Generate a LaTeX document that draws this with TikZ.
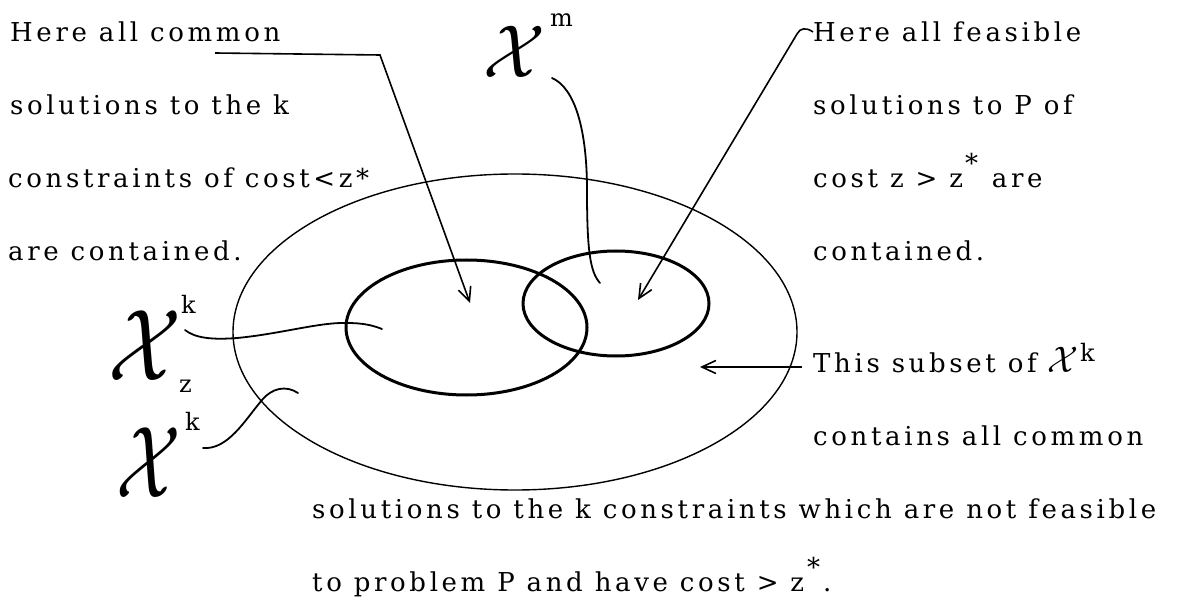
\documentclass[tikz,border=0pt]{standalone}
\usepackage{graphicx}
\usepackage{fontspec}
\setmainfont{DejaVu Serif}[LetterSpace=14]
\usetikzlibrary{arrows.meta}
\begin{document}
\begin{tikzpicture}[x=1pt,y=-1pt,
  txt/.style={anchor=base west,inner sep=0pt,font=\fontsize{26}{26}\selectfont},
  sup/.style={anchor=base west,inner sep=0pt,font=\fontsize{24}{24}\selectfont},
  scx/.style={anchor=base west,inner sep=0pt},
  outerset/.style={line width=1.4pt},
  innerset/.style={line width=3pt},
  pointer/.style={line width=1.6pt,-{Straight Barb[length=14pt,width=13pt,line width=1.6pt]}},
  lead/.style={line width=1.8pt,line cap=round}]
\useasboundingbox (0,0) rectangle (1177,601);

% sets
\draw[outerset] (515,332) ellipse [x radius=282, y radius=158];
\draw[innerset] (466.5,327.5) ellipse [x radius=120.5, y radius=67.5];
\draw[innerset] (616,303.5) ellipse [x radius=93, y radius=52.5];

% left text
\node[txt] (l1) at (10,42) {Here all common};
\node[txt] (l2) at (10,115) {solutions to the k};
\node[txt] (l3) at (8,188) {constraints of cost<z*};
\node[txt] (l4) at (8,261) {are contained.};

% right text
\node[txt] (r1) at (813,42) {Here all feasible};
\node[txt] (r2) at (813,115) {solutions to P of};
\node[txt] (r3) at (813,188) {cost z > z\hspace{2pt}\raisebox{15pt}{*}\hspace{2pt} are};
\node[txt] (r4) at (813,261) {contained.};

\node[txt] (s1) at (813,372) {This subset of};
\node[scx] (s1x) at (1047,372) {\scalebox{3.6}[3.7]{$\mathcal{X}$}};
\node[sup] (s1k) at (1080,361) {k};
\node[txt] (s2) at (813,445) {contains all common};

\node[txt] (b1) at (312,518) {solutions to the k constraints which are not feasible};
\node[txt] (b2) at (312,591) {to problem P and have cost > z\hspace{3pt}\raisebox{15pt}{*}\hspace{3pt}.};

% script X labels
\node[scx] (xm) at (483,78) {\scalebox{7.2}[7.5]{$\mathcal{X}$}};
\node[sup] (xmm) at (550,27) {m};
\node[scx] (xz) at (108,380) {\scalebox{8.5}[10.2]{$\mathcal{X}$}};
\node[sup] (xzk) at (181,313) {k};
\node[sup] (xzz) at (179,392) {z};
\node[scx] (xk) at (116,497) {\scalebox{7.5}[10.2]{$\mathcal{X}$}};
\node[sup] (xkk) at (185,430) {k};

% connectors
\coordinate (a1s) at (215,53);
\coordinate (a1b) at (380,55);
\coordinate (a1t) at (470,303);
\draw[pointer] (a1s) -- (a1b) -- (a1t);

\coordinate (a2s) at (813,32);
\coordinate (a2t) at (638,300);
\draw[pointer] (a2s) .. controls (806,27) and (800,28) .. (797,34) -- (a2t);

\coordinate (a3s) at (802,367);
\coordinate (a3t) at (700,367);
\draw[pointer] (a3s) -- (a3t);

\coordinate (cms) at (552,78);
\coordinate (cme) at (600,283);
\draw[lead] (cms) .. controls (575,88) and (587,130) .. (587,190) .. controls (587,250) and (590,272) .. (cme);

\coordinate (czs) at (185,330);
\coordinate (cze) at (382,329);
\draw[lead] (czs) .. controls (195,338) and (212,340) .. (237,338) .. controls (280,334) and (320,322) .. (347,323) .. controls (362,323) and (372,325) .. (cze);

\coordinate (cks) at (203,448);
\coordinate (cke) at (298,393);
\draw[lead] (cks) .. controls (228,450) and (245,420) .. (262,400) .. controls (272,388) and (286,385) .. (cke);
\end{tikzpicture}
\end{document}
